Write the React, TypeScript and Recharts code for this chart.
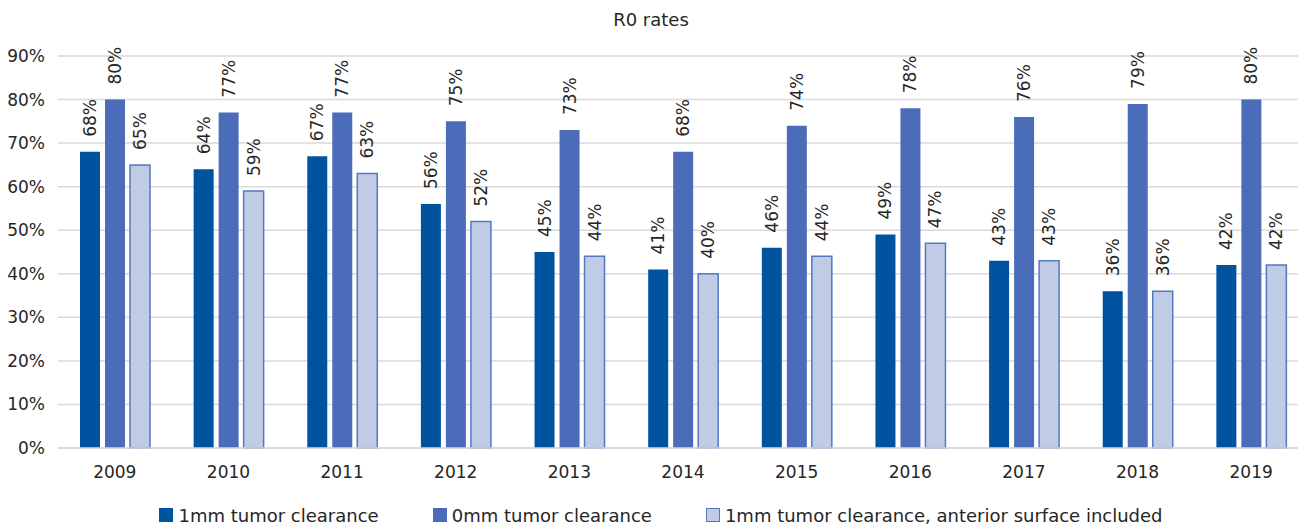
import React from "react";
import { BarChart, Bar, XAxis, YAxis, CartesianGrid, LabelList, Legend } from "recharts";

const years = ["2009", "2010", "2011", "2012", "2013", "2014", "2015", "2016", "2017", "2018", "2019"];
const clearance1mm = [68, 64, 67, 56, 45, 41, 46, 49, 43, 36, 42];
const clearance0mm = [80, 77, 77, 75, 73, 68, 74, 78, 76, 79, 80];
const clearanceAnterior = [65, 59, 63, 52, 44, 40, 44, 47, 43, 36, 42];
const yTicks = [0, 10, 20, 30, 40, 50, 60, 70, 80, 90];

const seriesNames = [
  "1mm tumor clearance",
  "0mm tumor clearance",
  "1mm tumor clearance, anterior surface included",
];
const colors = ["#00539F", "#4B6CB9", "#C0CBE5"];
const strokes = ["none", "none", "#5577C4"];

const data = years.map((y, i) => ({
  year: y,
  a: clearance1mm[i],
  b: clearance0mm[i],
  c: clearanceAnterior[i],
}));

const FONT = "'DejaVu Sans', sans-serif";
const TEXT = "#262626";

const VertLabel = (props: any) => {
  const { x, y, width, value } = props;
  const cx = x + width / 2;
  const cy = y - 15;
  return (
    <text
      x={cx}
      y={cy}
      transform={`rotate(-90, ${cx}, ${cy})`}
      textAnchor="start"
      dominantBaseline="central"
      fontSize={17}
      fontFamily={FONT}
      fill={TEXT}
    >
      {`${value}%`}
    </text>
  );
};

const LegendContent = () => (
  <div
    style={{
      display: "flex",
      justifyContent: "center",
      alignItems: "center",
      height: 22,
      fontFamily: FONT,
      fontSize: 18,
      color: TEXT,
      paddingLeft: 14,
    }}
  >
    {seriesNames.map((n, i) => (
      <div key={n} style={{ display: "flex", alignItems: "center", marginRight: i < 2 ? 54 : 0 }}>
        <span
          style={{
            display: "inline-block",
            width: 14,
            height: 14,
            background: colors[i],
            boxSizing: "border-box",
            border: i === 2 ? `1.5px solid ${strokes[2]}` : "none",
            marginRight: 5,
          }}
        />
        <span style={{ whiteSpace: "nowrap" }}>{n}</span>
      </div>
    ))}
  </div>
);

export default function App() {
  return (
    <div
      style={{
        position: "absolute",
        left: 0,
        top: 0,
        width: 1298,
        height: 526,
        overflow: "hidden",
        background: "#fff",
      }}
    >
      <div
        style={{
          position: "absolute",
          top: 8,
          left: 0,
          width: 1298,
          textAlign: "center",
          fontFamily: FONT,
          fontSize: 18,
          color: TEXT,
          lineHeight: "24px",
          paddingLeft: 2,
        }}
      >
        R0 rates
      </div>
      <BarChart
        width={1310}
        height={526}
        data={data}
        margin={{ top: 56, right: 2, left: 0, bottom: 0 }}
        barSize={20}
        barGap={5}
      >
        <CartesianGrid vertical={false} stroke="#D9D9D9" strokeWidth={1.5} />
        <XAxis
          dataKey="year"
          height={56}
          tickLine={false}
          axisLine={{ stroke: "#D9D9D9", strokeWidth: 1.5 }}
          tick={{ fontSize: 17, fontFamily: FONT, fill: TEXT }}
          tickMargin={12}
          interval={0}
        />
        <YAxis
          width={58}
          domain={[0, 90]}
          ticks={yTicks}
          tickFormatter={(v: number) => `${v}%`}
          axisLine={false}
          tickLine={false}
          tickSize={0}
          tickMargin={13}
          tick={{ fontSize: 17, fontFamily: FONT, fill: TEXT }}
          interval={0}
        />
        <Legend verticalAlign="bottom" content={<LegendContent />} />
        <Bar dataKey="a" name={seriesNames[0]} fill={colors[0]} isAnimationActive={false}>
          <LabelList dataKey="a" content={<VertLabel />} />
        </Bar>
        <Bar dataKey="b" name={seriesNames[1]} fill={colors[1]} isAnimationActive={false}>
          <LabelList dataKey="b" content={<VertLabel />} />
        </Bar>
        <Bar
          dataKey="c"
          name={seriesNames[2]}
          fill={colors[2]}
          stroke={strokes[2]}
          strokeWidth={1.5}
          isAnimationActive={false}
        >
          <LabelList dataKey="c" content={<VertLabel />} />
        </Bar>
      </BarChart>
    </div>
  );
}
